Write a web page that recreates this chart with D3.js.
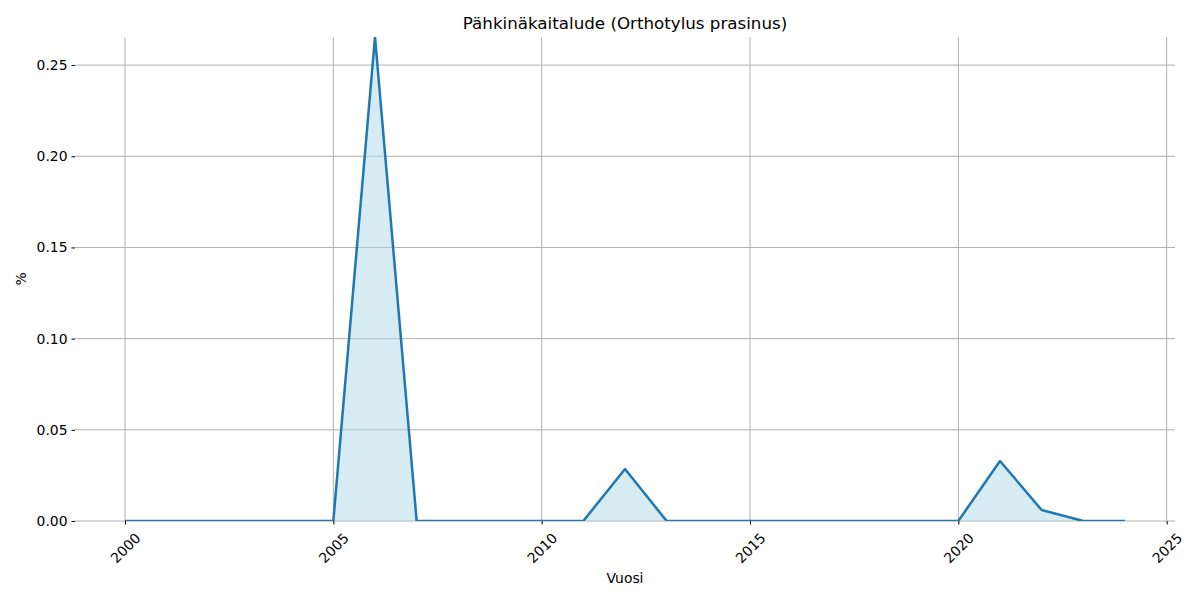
<!DOCTYPE html>
<html lang="fi">
  <head>
    <meta charset="utf-8">
    <title>Pähkinäkaitalude</title>
    <script src="https://cdn.jsdelivr.net/npm/d3@7"></script>
    <style>
      body { margin: 0; background: white; }
      text { font-family: "DejaVu Sans", sans-serif; }
    </style>
  </head>
  <body>
    <script>
      // data
      var years = [2000, 2001, 2002, 2003, 2004, 2005, 2006, 2007, 2008, 2009, 2010, 2011, 2012,
                   2013, 2014, 2015, 2016, 2017, 2018, 2019, 2020, 2021, 2022, 2023, 2024];
      var values = [0, 0, 0, 0, 0, 0, 0.2654, 0, 0, 0, 0, 0, 0.0285,
                    0, 0, 0, 0, 0, 0, 0, 0, 0.0329, 0.0060, 0, 0];
      var xTicks = [2000, 2005, 2010, 2015, 2020, 2025];
      var yTicks = [0, 0.05, 0.10, 0.15, 0.20, 0.25];

      var width = 1200, height = 600;
      var margin = {top: 37, right: 25, bottom: 79, left: 75};

      var data = years.map(function(y, i) { return {year: y, value: values[i]}; });

      var svg = d3.select("body").append("svg")
        .attr("width", width)
        .attr("height", height);

      var x = d3.scaleLinear()
        .domain([1998.8, 2025.2])
        .range([margin.left, width - margin.right]);

      var y = d3.scaleLinear()
        .domain([0, d3.max(values)])
        .range([height - margin.bottom, margin.top]);

      svg.append("clipPath").attr("id", "plot")
        .append("rect")
        .attr("x", margin.left)
        .attr("y", margin.top)
        .attr("width", width - margin.left - margin.right)
        .attr("height", height - margin.top - margin.bottom);

      // grid
      svg.append("g").selectAll("line").data(xTicks).enter().append("line")
        .attr("x1", function(d) { return x(d); }).attr("x2", function(d) { return x(d); })
        .attr("y1", margin.top).attr("y2", height - margin.bottom)
        .style("stroke", "#b0b0b0").style("stroke-width", 1);
      svg.append("g").selectAll("line").data(yTicks).enter().append("line")
        .attr("x1", margin.left).attr("x2", width - margin.right)
        .attr("y1", function(d) { return y(d); }).attr("y2", function(d) { return y(d); })
        .style("stroke", "#b0b0b0").style("stroke-width", 1);

      var plot = svg.append("g").attr("clip-path", "url(#plot)");

      var area = d3.area()
        .x(function(d) { return x(d.year); })
        .y0(y(0))
        .y1(function(d) { return y(d.value); });

      var line = d3.line()
        .x(function(d) { return x(d.year); })
        .y(function(d) { return y(d.value); });

      plot.append("path")
        .datum(data)
        .attr("d", area)
        .style("fill", "#add8e6")
        .style("fill-opacity", 0.5);

      plot.append("path")
        .datum(data)
        .attr("d", line)
        .style("fill", "none")
        .style("stroke", "#1f77b4")
        .style("stroke-width", 2.5)
        .style("stroke-linejoin", "round");

      // axes
      var xAxis = svg.append("g")
        .attr("transform", "translate(0," + (height - margin.bottom) + ")")
        .call(d3.axisBottom(x).tickValues(xTicks).tickFormat(d3.format("d")).tickSize(3.5).tickPadding(4));
      xAxis.select(".domain").remove();
      xAxis.selectAll("text")
        .attr("y", null).attr("dy", null)
        .attr("text-anchor", "middle")
        .attr("dominant-baseline", "central")
        .attr("transform", "translate(0,27) rotate(-45)")
        .style("font-size", "13.9px")
        .style("fill", "black");

      var yAxis = svg.append("g")
        .attr("transform", "translate(" + margin.left + ",0)")
        .call(d3.axisLeft(y).tickValues(yTicks).tickFormat(d3.format(".2f")).tickSize(3.5).tickPadding(4));
      yAxis.select(".domain").remove();
      yAxis.selectAll("text")
        .style("font-size", "13.9px")
        .style("fill", "black");

      svg.append("text")
        .attr("x", (margin.left + width - margin.right) / 2)
        .attr("y", 29)
        .attr("text-anchor", "middle")
        .style("font-size", "16.7px")
        .text("Pähkinäkaitalude (Orthotylus prasinus)");

      svg.append("text")
        .attr("x", (margin.left + width - margin.right) / 2)
        .attr("y", 583)
        .attr("text-anchor", "middle")
        .style("font-size", "13.9px")
        .text("Vuosi");

      svg.append("text")
        .attr("transform", "translate(26," + ((margin.top + height - margin.bottom) / 2) + ") rotate(-90)")
        .attr("text-anchor", "middle")
        .style("font-size", "13.9px")
        .text("%");
    </script>
  </body>
</html>
